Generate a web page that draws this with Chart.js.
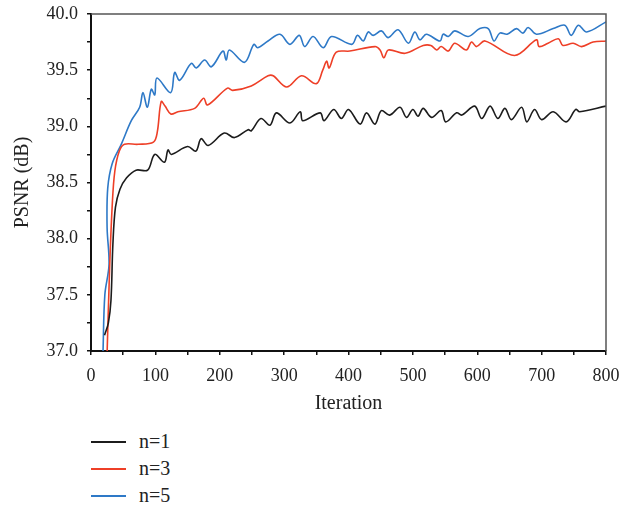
<!DOCTYPE html>
<html>
<head>
<meta charset="utf-8">
<script src="https://cdn.jsdelivr.net/npm/chart.js@4"></script>
<style>
  body { margin: 0; background: #fff; font-family: "Liberation Serif", serif; }
  #wrap { position: relative; width: 634px; height: 507px; }
  #legend { position: absolute; left: 91px; top: 428px; }
  .item { height: 27px; display: flex; align-items: center; font-size: 20px; color: #222; }
  .item span { display: inline-block; width: 35px; height: 0; border-top: 2px solid; margin-right: 13px; }
</style>
</head>
<body>
<div id="wrap">
  <canvas id="chart" width="634" height="420"></canvas>
  <div id="legend"></div>
</div>
<script>
// PSNR vs iteration, three settings of n
const labels = ["n=1", "n=3", "n=5"];
const colors = ["#1c1c1c", "#ee3f27", "#2e79c7"];

const n1X = [21, 27, 31, 34, 38, 45, 55, 70, 88, 99, 114, 119.6, 124.7, 150, 163, 171, 182, 207, 223, 244, 249, 264, 278, 288, 309, 325, 329, 356, 362, 377, 389, 400, 418, 428, 441, 451, 464, 480, 490, 500, 508, 516, 529, 544, 551, 568, 576, 596, 607, 620, 632, 643, 653, 669, 677, 689, 700, 718, 738, 753, 759, 800];
const n1Y = [37.14, 37.25, 37.45, 37.95, 38.28, 38.44, 38.54, 38.61, 38.61, 38.75, 38.68, 38.79, 38.75, 38.82, 38.78, 38.89, 38.83, 38.94, 38.90, 38.97, 38.96, 39.07, 39.01, 39.12, 39.03, 39.13, 39.05, 39.12, 39.05, 39.15, 39.07, 39.15, 39.02, 39.12, 39.02, 39.14, 39.10, 39.17, 39.08, 39.15, 39.09, 39.16, 39.08, 39.14, 39.04, 39.12, 39.10, 39.18, 39.07, 39.18, 39.07, 39.16, 39.06, 39.17, 39.04, 39.15, 39.06, 39.13, 39.04, 39.15, 39.13, 39.18];

const n3X = [25, 29, 33, 37, 44, 52, 73, 97, 103, 109, 115, 124, 135, 161, 175, 181, 212, 220, 249, 275, 283, 304, 327, 350, 360, 366, 370, 381, 402, 441, 449, 455, 462, 488, 516, 528, 537, 544, 555, 565, 583, 591, 599, 612, 658, 692, 696, 710, 726, 733, 749, 762, 780, 800];
const n3Y = [36.98, 37.75, 38.3, 38.6, 38.78, 38.84, 38.84, 38.86, 38.95, 39.22, 39.18, 39.11, 39.13, 39.16, 39.25, 39.19, 39.34, 39.32, 39.36, 39.45, 39.45, 39.35, 39.45, 39.38, 39.50, 39.58, 39.52, 39.66, 39.67, 39.71, 39.68, 39.61, 39.68, 39.65, 39.72, 39.72, 39.68, 39.71, 39.67, 39.74, 39.68, 39.75, 39.71, 39.76, 39.63, 39.77, 39.71, 39.74, 39.78, 39.72, 39.74, 39.71, 39.75, 39.76];

const n5X = [18.6, 21.5, 28, 25, 26, 33, 47, 62.6, 75.6, 80.7, 87.5, 93.7, 99, 102.5, 123.7, 130, 137.7, 155.8, 163.5, 176.5, 187, 205, 210, 215, 238.6, 253, 259, 275, 293.5, 309, 323.5, 332, 345, 360.7, 373.7, 405, 414, 423, 430.6, 438.4, 451, 461.6, 477, 493, 503, 511, 521, 542, 547, 555, 565, 586, 604, 617, 626, 635, 646.5, 661, 671, 679, 692, 718, 736, 746, 757, 770, 800];
const n5Y = [36.98, 37.5, 37.77, 38.1, 38.45, 38.67, 38.84, 39.05, 39.17, 39.30, 39.17, 39.33, 39.28, 39.43, 39.30, 39.48, 39.41, 39.56, 39.52, 39.59, 39.53, 39.67, 39.59, 39.68, 39.57, 39.73, 39.70, 39.76, 39.82, 39.73, 39.81, 39.71, 39.80, 39.70, 39.80, 39.73, 39.81, 39.76, 39.84, 39.81, 39.85, 39.79, 39.86, 39.74, 39.84, 39.77, 39.82, 39.76, 39.82, 39.80, 39.85, 39.80, 39.87, 39.87, 39.76, 39.83, 39.82, 39.87, 39.83, 39.88, 39.82, 39.87, 39.90, 39.81, 39.90, 39.84, 39.93];

const seriesX = [n1X, n3X, n5X];
const seriesY = [n1Y, n3Y, n5Y];

const font = "'Liberation Serif', 'Times New Roman', serif";

// top and right spines in grey
const frame = {
  id: "frame",
  afterDraw(chart) {
    const a = chart.chartArea, c = chart.ctx;
    c.save();
    c.strokeStyle = "#555";
    c.lineWidth = 1.5;
    c.beginPath();
    c.moveTo(a.left, a.top);
    c.lineTo(a.right, a.top);
    c.lineTo(a.right, a.bottom);
    c.stroke();
    c.restore();
  }
};

const chart = new Chart(document.getElementById("chart"), {
  type: "line",
  data: {
    datasets: labels.map((l, i) => ({
      label: l,
      data: seriesX[i].map((x, j) => ({ x: x, y: seriesY[i][j] })),
      borderColor: colors[i],
      backgroundColor: colors[i],
      borderWidth: 1.6,
      pointRadius: 0,
      tension: 0.35,
      fill: false,
    })),
  },
  options: {
    responsive: false,
    animation: false,
    layout: { padding: { top: 14, right: 28, left: 0, bottom: 0 } },
    plugins: {
      legend: { display: false },
      tooltip: { enabled: false },
    },
    scales: {
      x: {
        type: "linear",
        min: 0,
        max: 800,
        afterFit: (s) => { s.height = 69; s.paddingLeft = 0; s.paddingRight = 0; },
        border: { color: "#111", width: 2 },
        grid: { drawOnChartArea: false, drawTicks: true, tickLength: 4, color: "#111", lineWidth: 1.5 },
        ticks: {
          stepSize: 50,
          padding: 10,
          autoSkip: false,
          maxRotation: 0,
          minRotation: 0,
          color: "#222",
          font: { family: font, size: 18 },
          callback: (v) => (v % 100 === 0 ? v : ""),
        },
        title: { display: true, text: "Iteration", color: "#222", font: { family: font, size: 20 }, padding: { top: 4, bottom: 4 } },
      },
      y: {
        min: 37,
        max: 40,
        afterFit: (s) => { s.width = 91; s.paddingTop = 0; s.paddingBottom = 0; },
        border: { color: "#111", width: 2 },
        grid: { drawOnChartArea: false, drawTicks: true, tickLength: 4, color: "#111", lineWidth: 1.5 },
        ticks: {
          stepSize: 0.25,
          padding: 9,
          autoSkip: false,
          color: "#222",
          font: { family: font, size: 18 },
          callback: (v) => (Math.abs(v * 2 - Math.round(v * 2)) < 1e-6 ? v.toFixed(1) : ""),
        },
        title: { display: true, text: "PSNR (dB)", color: "#222", font: { family: font, size: 20 }, padding: { top: 11, bottom: 0 } },
      },
    },
  },
  plugins: [frame],
});

// legend under the chart, left aligned with the plot
const legendBox = document.getElementById("legend");
chart.data.datasets.forEach((d) => {
  const row = document.createElement("div");
  row.className = "item";
  const sw = document.createElement("span");
  sw.style.borderColor = d.borderColor;
  row.appendChild(sw);
  row.appendChild(document.createTextNode(d.label));
  legendBox.appendChild(row);
});
</script>
</body>
</html>
